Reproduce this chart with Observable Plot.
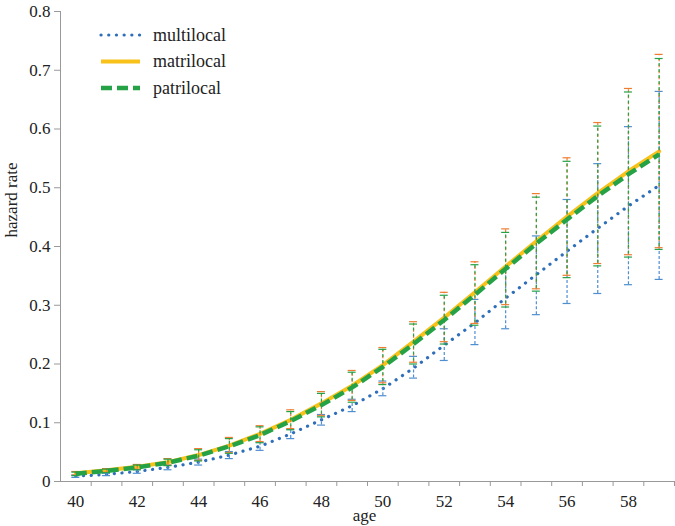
<!DOCTYPE html>
<html><head><meta charset="utf-8">
<script src="https://cdn.jsdelivr.net/npm/d3@7"></script>
<script src="https://cdn.jsdelivr.net/npm/@observablehq/plot@0.6"></script>
<style>
html,body{margin:0;padding:0;background:#fff;}
#wrap{position:relative;width:675px;height:526px;font-family:'Liberation Serif','Times New Roman',Times,Tinos,'Noto Serif','DejaVu Serif',serif;}
#wrap svg, #wrap svg text{font-family:'Liberation Serif','Times New Roman',Times,Tinos,'Noto Serif','DejaVu Serif',serif !important;}
#legend{position:absolute;left:0;top:0;pointer-events:none;}
</style></head><body><div id="wrap"></div>
<script>
const ages = [40,41,42,43,44,45,46,47,48,49,50,51,52,53,54,55,56,57,58,59];
const xTickLabels = [40,42,44,46,48,50,52,54,56,58];
const yTicks = [0,0.1,0.2,0.3,0.4,0.5,0.6,0.7,0.8];
const seriesNames = ["multilocal","matrilocal","patrilocal"];

const multilocal   = [0.009,0.012,0.017,0.024,0.033,0.045,0.060,0.081,0.105,0.129,0.158,0.193,0.232,0.270,0.312,0.352,0.392,0.431,0.469,0.504];
const multilocalLo = [0.007,0.010,0.014,0.020,0.028,0.039,0.053,0.073,0.096,0.119,0.146,0.176,0.206,0.233,0.260,0.284,0.303,0.320,0.335,0.344];
const multilocalHi = [0.011,0.014,0.020,0.028,0.038,0.051,0.067,0.089,0.114,0.140,0.171,0.213,0.260,0.310,0.362,0.418,0.480,0.541,0.604,0.664];

const matrilocal   = [0.014,0.019,0.025,0.033,0.045,0.061,0.081,0.105,0.133,0.163,0.198,0.238,0.279,0.322,0.366,0.409,0.451,0.491,0.528,0.562];
const matrilocalLo = [0.011,0.016,0.021,0.028,0.036,0.049,0.068,0.090,0.112,0.138,0.168,0.203,0.238,0.269,0.301,0.328,0.351,0.371,0.386,0.398];
const matrilocalHi = [0.017,0.022,0.029,0.039,0.056,0.075,0.095,0.122,0.153,0.189,0.228,0.272,0.322,0.374,0.430,0.490,0.551,0.611,0.669,0.727];

const patrilocal   = [0.013,0.018,0.024,0.032,0.044,0.060,0.079,0.103,0.130,0.160,0.195,0.234,0.275,0.318,0.362,0.405,0.446,0.486,0.523,0.557];
const patrilocalLo = [0.010,0.015,0.020,0.027,0.035,0.048,0.066,0.088,0.110,0.135,0.165,0.200,0.234,0.266,0.297,0.324,0.347,0.367,0.382,0.395];
const patrilocalHi = [0.016,0.021,0.028,0.038,0.054,0.073,0.093,0.119,0.150,0.186,0.225,0.268,0.317,0.369,0.424,0.484,0.545,0.605,0.663,0.720];

const rows = (v, lo, hi) => ages.map((a, i) => ({age: a, v: v[i], lo: lo[i], hi: hi[i]}));
const mData = rows(multilocal, multilocalLo, multilocalHi);
const maData = rows(matrilocal, matrilocalLo, matrilocalHi);
const pData = rows(patrilocal, patrilocalLo, patrilocalHi);

const boundaries = ages.map(a => a + 0.5);
const capHalf = 0.13;

const BLUE = "#2f6fba", BLUE_BAR = "#4f8fd0", GOLD = "#f8c21a", ORANGE = "#ee7d31", GREEN = "#25a246";
const FONT = "'Liberation Serif','Times New Roman',Times,Tinos,'Noto Serif','DejaVu Serif',serif";

function bars(data, color, dash, offset) {
  return [
    Plot.ruleX(data, {x: "age", y1: "lo", y2: "hi", stroke: color, strokeWidth: 1.2, strokeDasharray: dash, strokeDashoffset: offset}),
    Plot.ruleY(data, {y: "hi", x1: d => d.age - capHalf, x2: d => d.age + capHalf, stroke: color, strokeWidth: 1.2}),
    Plot.ruleY(data, {y: "lo", x1: d => d.age - capHalf, x2: d => d.age + capHalf, stroke: color, strokeWidth: 1.2})
  ];
}

const chart = Plot.plot({
  width: 675, height: 526,
  marginLeft: 60, marginRight: 1, marginTop: 11, marginBottom: 45,
  style: {fontFamily: FONT, fontSize: "17px", color: "#222", background: "white"},
  x: {domain: [39.5, 59.5]},
  y: {domain: [0, 0.8]},
  marks: [
    Plot.axisY({ticks: yTicks, tickFormat: d => d === 0 ? "0" : d.toFixed(1), tickSize: 6, tickPadding: 4, stroke: "#999", label: null}),
    Plot.axisX({ticks: boundaries, tickFormat: () => "", tickSize: 5, stroke: "#999", label: null}),
    Plot.axisX({ticks: xTickLabels, tickSize: 0, tickPadding: 13, label: null}),
    Plot.ruleX([39.5], {stroke: "#999"}),
    Plot.ruleY([0], {stroke: "#999"}),
    Plot.line(mData, {x: "age", y: "v", stroke: BLUE, strokeWidth: 3.2, strokeDasharray: "0.1 7.6", strokeLinecap: "round"}),
    ...bars(mData, BLUE_BAR, "3 2", 0),
    Plot.line(maData, {x: "age", y: "v", stroke: GOLD, strokeWidth: 4}),
    ...bars(maData, ORANGE, "3 3", 0),
    Plot.line(pData, {x: "age", y: "v", stroke: GREEN, strokeWidth: 4.5, strokeDasharray: "11 5", strokeLinecap: "butt"}),
    ...bars(pData, GREEN, "3 3", 3),
    Plot.text(["hazard rate"], {frameAnchor: "left", rotate: -90, dx: -49, dy: -9, fontSize: 17}),
    Plot.text(["age"], {frameAnchor: "bottom", dy: 39, dx: -3, fontSize: 17})
  ]
});

const wrap = document.getElementById("wrap");
wrap.appendChild(chart);

// legend
const styles = {
  multilocal: {stroke: BLUE, width: 3.2, dash: "0.1 7.6", cap: "round"},
  matrilocal: {stroke: GOLD, width: 4, dash: null, cap: "butt"},
  patrilocal: {stroke: GREEN, width: 4.5, dash: "11 5", cap: "butt"}
};
const svgNS = "http://www.w3.org/2000/svg";
const leg = document.createElementNS(svgNS, "svg");
leg.setAttribute("id", "legend");
leg.setAttribute("width", 675);
leg.setAttribute("height", 120);
seriesNames.forEach((name, i) => {
  const y = 35 + i * 26.5;
  const s = styles[name];
  const ln = document.createElementNS(svgNS, "line");
  ln.setAttribute("x1", 101); ln.setAttribute("x2", 140);
  ln.setAttribute("y1", y); ln.setAttribute("y2", y);
  ln.setAttribute("stroke", s.stroke);
  ln.setAttribute("stroke-width", s.width);
  ln.setAttribute("stroke-linecap", s.cap);
  if (s.dash) ln.setAttribute("stroke-dasharray", s.dash);
  leg.appendChild(ln);
  const t = document.createElementNS(svgNS, "text");
  t.setAttribute("x", 153); t.setAttribute("y", y);
  t.setAttribute("dy", "0.32em");
  t.setAttribute("font-size", 18);
  t.setAttribute("fill", "#222");
  t.textContent = name;
  leg.appendChild(t);
});
wrap.appendChild(leg);
</script></body></html>
